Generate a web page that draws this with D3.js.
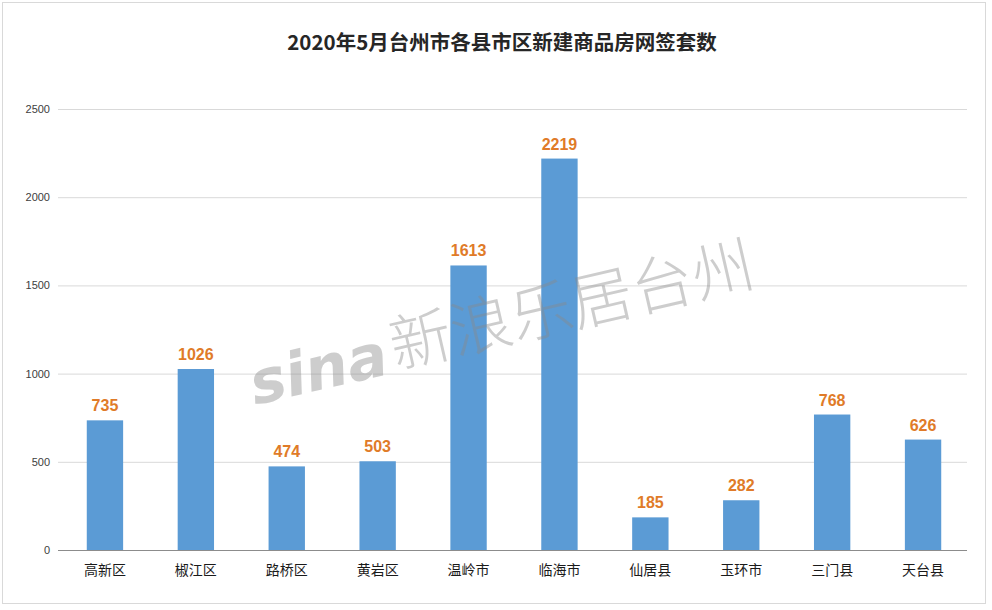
<!DOCTYPE html>
<html><head><meta charset="utf-8">
<script src="https://cdn.jsdelivr.net/npm/d3@7"></script>
<style>body{margin:0;background:#fff;}svg{display:block;}</style>
</head><body>
<svg id="c" width="992" height="610"></svg>
<script>
const title = "2020年5月台州市各县市区新建商品房网签套数";
const categories = ["高新区","椒江区","路桥区","黄岩区","温岭市","临海市","仙居县","玉环市","三门县","天台县"];
const values = [735,1026,474,503,1613,2219,185,282,768,626];
const yTicks = [0,500,1000,1500,2000,2500];

const svg = d3.select("#c");
const W = 992, H = 610;
const m = {left:58, right:25, top:109, bottom:60};
const x = d3.scaleBand().domain(categories).range([m.left+1.5, W-m.right+1.5]).paddingInner(0.6).paddingOuter(0.3);
const y = d3.scaleLinear().domain([0,2500]).range([H-m.bottom, m.top]);

// frame
svg.append("rect").attr("x",2.5).attr("y",2.5).attr("width",983).attr("height",601)
  .attr("fill","#fff").attr("stroke","#d9d9d9");

// gridlines
const gy = svg.append("g").attr("transform",`translate(${m.left},0)`)
  .call(d3.axisLeft(y).tickValues(yTicks).tickFormat(d3.format("d")).tickSize(-(W-m.left-m.right)).tickPadding(8));
gy.select(".domain").remove();
gy.selectAll(".tick line").attr("stroke","#d9d9d9");
gy.selectAll(".tick text").attr("fill","#404040").style("font-family","'Liberation Sans',Arial,sans-serif").style("font-size","11px");

// bars
svg.append("g").selectAll("rect").data(values).join("rect")
  .attr("x",(d,i)=>x(categories[i])).attr("width",x.bandwidth())
  .attr("y",d=>y(d)).attr("height",d=>y(0)-y(d)).attr("fill","#5b9bd5");

// watermark (over bars)
const wm = svg.append("g").attr("transform","translate(255,405) rotate(-13)").attr("opacity",0.42);
wm.append("text").text("sina").attr("x",0).attr("y",0)
  .style("font-family","'DejaVu Sans',sans-serif").style("font-weight","bold").style("font-style","italic")
  .style("font-size","60px").attr("fill","#8a8a8a");
wm.append("text").text("新浪乐居台州").attr("x",145).attr("y",-4)
  .style("font-family","'Noto Sans CJK SC',sans-serif").style("font-weight","300")
  .style("font-size","62px").attr("fill","#8a8a8a");

// baseline
svg.append("line").attr("x1",m.left).attr("x2",W-m.right).attr("y1",y(0)+0.5).attr("y2",y(0)+0.5).attr("stroke","#8c8c8c");

// labels
svg.append("g").selectAll("text").data(values).join("text")
  .attr("x",(d,i)=>x(categories[i])+x.bandwidth()/2).attr("y",d=>y(d)-9)
  .attr("text-anchor","middle").attr("fill","#e07b28")
  .style("font-family","'Liberation Sans',Arial,sans-serif").style("font-weight","bold").style("font-size","16px")
  .text(d=>d);

// category labels
svg.append("g").selectAll("text").data(categories).join("text")
  .attr("x",d=>x(d)+x.bandwidth()/2).attr("y",y(0)+25)
  .attr("text-anchor","middle").attr("fill","#1a1a1a")
  .style("font-family","'Noto Sans CJK SC',sans-serif").style("font-size","14px")
  .text(d=>d);

// title
svg.append("text").attr("x",502).attr("y",50).attr("text-anchor","middle")
  .attr("fill","#262626").style("font-family","'Noto Sans CJK SC',sans-serif").style("font-weight","bold").style("font-size","20.5px")
  .text(title);
</script>
</body></html>
